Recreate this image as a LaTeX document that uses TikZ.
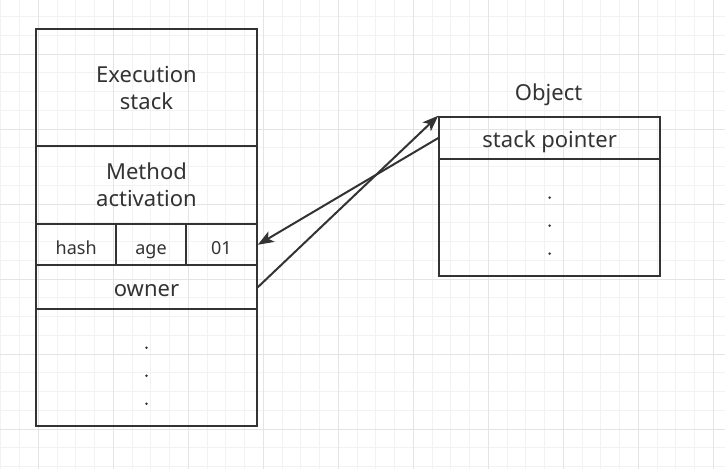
\documentclass[tikz,border=0pt]{standalone}
\usepackage{fontspec}
\setmainfont{Noto Sans}
\usetikzlibrary{calc, arrows.meta}

\definecolor{boxline}{HTML}{333333}
\definecolor{gridminor}{HTML}{F2F2F2}
\definecolor{gridmajor}{HTML}{E4E4E4}

\tikzset{
	cell/.style={draw=boxline, line width=2pt, rectangle, inner sep=0pt, anchor=north west,
		text=boxline, align=center, font=\fontsize{22}{27}\selectfont},
	linecell/.style={cell, text height=19pt, text depth=0pt},
	smallcell/.style={linecell, font=\fontsize{18}{21}\selectfont},
	link/.style={draw=boxline, line width=2pt, -{Stealth[length=16pt, width=12pt, inset=4pt]}}
}

\begin{document}
\begin{tikzpicture}[x=1pt, y=-1pt]
					\def\xMAX{725};
					\def\yMAX{469};

					\useasboundingbox (0,0) rectangle (\xMAX,\yMAX);
					\fill[white] (0,0) rectangle (\xMAX,\yMAX);

					% grid
					\begin{scope}
						\clip (0,0) rectangle (\xMAX,\yMAX);
						\foreach \i in {-2,...,36}
						{
							\draw[gridminor, line width=1pt] ({38.3+18.75*\i},0) -- ++(0,\yMAX);
						}
						\foreach \j in {-2,...,22}
						{
							\draw[gridminor, line width=1pt] (0,{54+18.75*\j}) -- ++(\xMAX,0);
						}
						\foreach \i in {0,...,9}
						{
							\draw[gridmajor, line width=1pt] ({38.3+75*\i},0) -- ++(0,\yMAX);
						}
						\foreach \j in {0,...,5}
						{
							\draw[gridmajor, line width=1pt] (0,{54+75*\j}) -- ++(\xMAX,0);
						}
					\end{scope}

					% execution stack
					\begin{scope}
						\node[cell, minimum width=220.4pt, minimum height=116.7pt] (exec) at (35.3,28.3) {Execution\\stack};
						\node[cell, minimum width=220.4pt, minimum height=78.3pt] (method) at (35.3,145) {Method\\activation};
						\node[smallcell, minimum width=79.7pt, minimum height=41pt] (hash) at (35.3,223.3) {hash};
						\node[smallcell, minimum width=70pt, minimum height=41pt] (age) at (115,223.3) {age};
						\node[smallcell, minimum width=70.7pt, minimum height=41pt] (lock) at (185,223.3) {01};
						\node[linecell, minimum width=220.4pt, minimum height=44pt] (owner) at (35.3,264.3) {owner};
						\node[cell, minimum width=220.4pt, minimum height=116.7pt] (rest) at (35.3,308.3) {};
					\end{scope}

					% object
					\begin{scope}
						\node[linecell, minimum width=220.7pt, minimum height=42.6pt] (sp) at (438.3,115.7) {stack pointer};
						\node[cell, minimum width=220.7pt, minimum height=116.7pt] (fields) at (438.3,158.3) {};
						\node[text=boxline, font=\fontsize{22}{27}\selectfont, anchor=base, inner sep=0pt] (object) at (548.6,100) {Object};
					\end{scope}

					\begin{scope}
						\foreach \y in {-20,8,36}
						{
							\fill[boxline] ($(rest.center)+(0,\y)$) circle (1.4pt);
							\fill[boxline] ($(fields.center)+(0,\y)$) circle (1.4pt);
						}
					\end{scope}

					% links
					\draw[link] (sp.west) -- (lock.east);
					\draw[link] (owner.east) -- (sp.north west);
				\end{tikzpicture}
\end{document}
